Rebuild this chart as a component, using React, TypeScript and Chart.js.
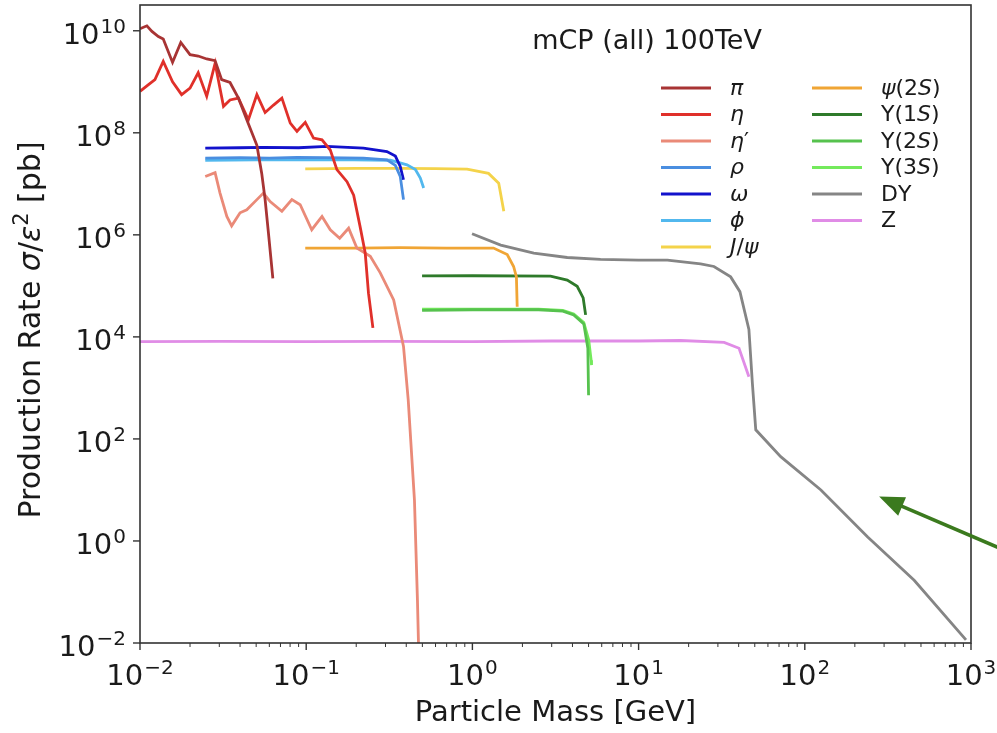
import React, { useEffect, useRef } from "react";
import { Chart, registerables } from "chart.js";

Chart.register(...registerables);

// ---------- data ----------
const piMass = [0.01, 0.011, 0.0118, 0.0129, 0.0138, 0.0157, 0.0176, 0.02, 0.0224, 0.0252, 0.0283, 0.031, 0.0348, 0.0391, 0.0439, 0.0505, 0.054, 0.0566, 0.0593, 0.063];
const piRate = [1.1e10, 1.25e10, 9.7e9, 7.7e9, 6.9e9, 2.4e9, 5.9e9, 3.4e9, 3.2e9, 2.8e9, 2.6e9, 1.1e9, 9.7e8, 4.8e8, 1.8e8, 5.7e7, 1.6e7, 4.9e6, 1.07e6, 1.4e5];

const etaMass = [0.01, 0.0112, 0.0123, 0.0138, 0.0157, 0.0178, 0.02, 0.0224, 0.0252, 0.0283, 0.0318, 0.0348, 0.0391, 0.0449, 0.0505, 0.0566, 0.0636, 0.0714, 0.0802, 0.088, 0.0987, 0.1107, 0.1245, 0.1396, 0.153, 0.176, 0.193, 0.211, 0.2265, 0.237, 0.252];
const etaRate = [6.5e8, 8.7e8, 1.1e9, 2.5e9, 1.0e9, 5.6e8, 7.5e8, 1.5e9, 5.2e8, 2.3e9, 3.3e8, 4.4e8, 4.8e8, 1.8e8, 5.6e8, 2.5e8, 3.5e8, 4.8e8, 1.55e8, 1.07e8, 1.6e8, 7.9e7, 7.3e7, 4.6e7, 1.9e7, 1.1e7, 6.0e6, 1.45e6, 4.4e5, 7.2e4, 1.5e4];

const etapMass = [0.0247, 0.0283, 0.0303, 0.0333, 0.0356, 0.04, 0.0439, 0.0505, 0.0553, 0.0607, 0.0714, 0.082, 0.092, 0.108, 0.1245, 0.1396, 0.159, 0.18, 0.2018, 0.243, 0.279, 0.336, 0.385, 0.411, 0.448, 0.467, 0.475];
const etapRate = [1.39e7, 1.66e7, 6.6e6, 2.3e6, 1.5e6, 2.7e6, 3.1e6, 4.9e6, 6.6e6, 4.5e6, 2.9e6, 4.9e6, 3.9e6, 1.26e6, 2.3e6, 1.26e6, 8.6e5, 1.35e6, 5.5e5, 3.8e5, 1.8e5, 5.3e4, 6.5e3, 582, 6.4, 0.07, 0.007];

const rhoMass = [0.0247, 0.04, 0.06, 0.088, 0.13, 0.221, 0.306, 0.344, 0.368, 0.385];
const rhoRate = [3.2e7, 3.25e7, 3.2e7, 3.3e7, 3.25e7, 3.2e7, 2.95e7, 2.3e7, 1.4e7, 4.9e6];

const omegaMass = [0.0247, 0.04, 0.0553, 0.09, 0.133, 0.221, 0.306, 0.344, 0.368, 0.385];
const omegaRate = [5.0e7, 5.1e7, 5.2e7, 5.1e7, 5.4e7, 5.0e7, 4.3e7, 3.5e7, 2.2e7, 1.2e7];

const phiMass = [0.0247, 0.05, 0.088, 0.15, 0.321, 0.404, 0.454, 0.486, 0.509];
const phiRate = [2.9e7, 2.95e7, 2.95e7, 3.0e7, 2.9e7, 2.35e7, 1.9e7, 1.3e7, 8.3e6];

const jpsiMass = [0.0987, 0.2, 0.368, 0.6, 0.929, 1.25, 1.44, 1.545];
const jpsiRate = [1.96e7, 2.0e7, 2.0e7, 1.98e7, 1.95e7, 1.6e7, 1.03e7, 2.9e6];

const psi2sMass = [0.0987, 0.2, 0.368, 0.7, 1.34, 1.62, 1.77, 1.84, 1.86];
const psi2sRate = [5.5e5, 5.5e5, 5.6e5, 5.5e5, 5.5e5, 4.1e5, 2.4e5, 1.5e5, 3.9e4];

const ups1Mass = [0.498, 1, 2.95, 3.72, 4.27, 4.64, 4.8];
const ups1Rate = [1.57e5, 1.58e5, 1.55e5, 1.3e5, 9.8e4, 5.8e4, 2.7e4];

const ups2Mass = [0.498, 1, 2.5, 3.5, 4.07, 4.68, 4.95, 5.0];
const ups2Rate = [3.3e4, 3.4e4, 3.4e4, 3.2e4, 2.7e4, 1.8e4, 6.0e3, 7.2e2];

const ups3Mass = [0.498, 1, 2.5, 3.5, 4.07, 4.68, 5.01, 5.18, 5.21];
const ups3Rate = [3.5e4, 3.5e4, 3.5e4, 3.3e4, 2.8e4, 1.9e4, 8.7e3, 3.5e3, 2.8e3];

const dyMass = [0.995, 1.48, 2.34, 3.72, 5.9, 10, 14.9, 23.6, 28.4, 35.8, 40.7, 46.1, 48.4, 50.7, 71.6, 125, 239, 455, 933];
const dyRate = [1.05e6, 6.3e5, 4.4e5, 3.6e5, 3.3e5, 3.2e5, 3.2e5, 2.7e5, 2.4e5, 1.5e5, 7.7e4, 1.4e4, 1.2e3, 151, 45, 10, 1.2, 0.17, 0.0115];

const zMass = [0.01, 0.03, 0.1, 0.3, 1, 3, 10, 17.9, 32.7, 40.2, 46.1];
const zRate = [8.1e3, 8.2e3, 8.1e3, 8.2e3, 8.1e3, 8.3e3, 8.3e3, 8.5e3, 7.8e3, 6.0e3, 1.65e3];

const seriesLabels = ["π", "η", "η′", "ρ", "ω", "ϕ", "J/ψ", "ψ(2S)", "Υ(1S)", "Υ(2S)", "Υ(3S)", "DY", "Z"];
const seriesColors = ["#a83434", "#e0302a", "#ea8a78", "#4a8ee0", "#1212cc", "#52b8ee", "#f4d34a", "#f0a535", "#2e7a2a", "#56c24e", "#74ea5c", "#858585", "#e08ce6"];
const seriesMass = [piMass, etaMass, etapMass, rhoMass, omegaMass, phiMass, jpsiMass, psi2sMass, ups1Mass, ups2Mass, ups3Mass, dyMass, zMass];
const seriesRate = [piRate, etaRate, etapRate, rhoRate, omegaRate, phiRate, jpsiRate, psi2sRate, ups1Rate, ups2Rate, ups3Rate, dyRate, zRate];

const xMajorExponents = [-2, -1, 0, 1, 2, 3];
const yMajorExponents = [-2, 0, 2, 4, 6, 8, 10];
const minorMultipliers = [2, 3, 4, 5, 6, 7, 8, 9];
const xRange = [0.01, 1000];
const yRange = [0.01, 3.2e10];

const titleText = "mCP (all) 100TeV";
const xAxisTitle = "Particle Mass [GeV]";
const yAxisTitle: [string, string][] = [["Production Rate ", "n"], ["σ", "i"], ["/", "n"], ["ε", "i"], ["2", "sup"], [" [pb]", "n"]];

// annotation arrow (data coordinates): tail -> tip
const arrowTail = [1742, 0.58];
const arrowTip = [280, 7.4];

// ---------- drawing helpers ----------
const FONT = '"DejaVu Sans", sans-serif';
const TEXT = "#1a1a1a";
const ITALIC = new Set(["π", "η", "ρ", "ω", "ϕ", "ψ", "J", "S", "σ", "ε"]);

function drawPow(ctx: CanvasRenderingContext2D, exp: number, x: number, y: number, align: "center" | "right") {
  const base = "10";
  const e = exp < 0 ? "\u2212" + Math.abs(exp) : String(exp);
  const bf = `29px ${FONT}`;
  const sf = `20px ${FONT}`;
  ctx.font = bf;
  const wb = ctx.measureText(base).width;
  ctx.font = sf;
  const we = ctx.measureText(e).width;
  const total = wb + we + 1;
  const x0 = align === "center" ? x - total / 2 : x - total;
  ctx.textAlign = "left";
  ctx.textBaseline = "alphabetic";
  ctx.font = bf;
  ctx.fillText(base, x0, y);
  ctx.font = sf;
  ctx.fillText(e, x0 + wb + 1, y - 11);
}

function drawRich(ctx: CanvasRenderingContext2D, text: string, x: number, y: number, size: number) {
  let cx = x;
  ctx.textAlign = "left";
  ctx.textBaseline = "middle";
  for (const ch of Array.from(text)) {
    ctx.font = `${ITALIC.has(ch) ? "italic " : ""}${size}px ${FONT}`;
    ctx.fillText(ch, cx, y);
    cx += ctx.measureText(ch).width;
  }
}

const decorPlugin = {
  id: "decor",
  afterDatasetsDraw(chart: any) {
    const { ctx, chartArea: a, scales } = chart;
    const xs = scales.x;
    const ys = scales.y;
    ctx.save();
    ctx.fillStyle = TEXT;
    ctx.strokeStyle = "#333";

    // ticks x
    ctx.lineWidth = 1.4;
    for (const e of xMajorExponents) {
      const px = xs.getPixelForValue(Math.pow(10, e));
      ctx.beginPath();
      ctx.moveTo(px, a.bottom);
      ctx.lineTo(px, a.bottom + 7);
      ctx.stroke();
      drawPow(ctx, e, px, 685, "center");
      if (e < xMajorExponents[xMajorExponents.length - 1]) {
        for (const m of minorMultipliers) {
          const mx = xs.getPixelForValue(m * Math.pow(10, e));
          ctx.lineWidth = 1;
          ctx.beginPath();
          ctx.moveTo(mx, a.bottom);
          ctx.lineTo(mx, a.bottom + 4);
          ctx.stroke();
          ctx.lineWidth = 1.4;
        }
      }
    }
    // ticks y
    for (const e of yMajorExponents) {
      const py = ys.getPixelForValue(Math.pow(10, e));
      ctx.beginPath();
      ctx.moveTo(a.left, py);
      ctx.lineTo(a.left - 7, py);
      ctx.stroke();
      drawPow(ctx, e, 126, py + 13, "right");
    }

    // frame
    ctx.lineWidth = 1.6;
    ctx.strokeStyle = "#333";
    ctx.strokeRect(a.left, a.top, a.right - a.left, a.bottom - a.top);

    // axis titles
    ctx.fillStyle = TEXT;
    ctx.font = `29px ${FONT}`;
    ctx.textAlign = "center";
    ctx.textBaseline = "alphabetic";
    ctx.fillText(xAxisTitle, (a.left + a.right) / 2, 721);

    ctx.save();
    ctx.translate(40, 330);
    ctx.rotate(-Math.PI / 2);
    const fontFor = (k: string) => (k === "sup" ? `21px ${FONT}` : `${k === "i" ? "italic " : ""}30px ${FONT}`);
    let total = 0;
    for (const [t, k] of yAxisTitle) {
      ctx.font = fontFor(k);
      total += ctx.measureText(t).width;
    }
    let cx = -total / 2;
    ctx.textAlign = "left";
    for (const [t, k] of yAxisTitle) {
      ctx.font = fontFor(k);
      ctx.fillText(t, cx, k === "sup" ? -12 : 0);
      cx += ctx.measureText(t).width;
    }
    ctx.restore();

    // title inside axes
    ctx.font = `27px ${FONT}`;
    ctx.textAlign = "center";
    ctx.textBaseline = "middle";
    ctx.fillText(titleText, 647, 42);

    // legend (two columns)
    const ds = chart.data.datasets;
    const perCol = 7;
    for (let i = 0; i < ds.length; i++) {
      const col = Math.floor(i / perCol);
      const row = i % perCol;
      const lx = col === 0 ? 661 : 812;
      const ly = 88 + row * 26.5;
      ctx.strokeStyle = ds[i].borderColor;
      ctx.lineWidth = 3;
      ctx.beginPath();
      ctx.moveTo(lx, ly);
      ctx.lineTo(lx + 50, ly);
      ctx.stroke();
      ctx.fillStyle = TEXT;
      drawRich(ctx, ds[i].label, lx + 69, ly + 1, 22);
    }

    // annotation arrow
    const tx = xs.getPixelForValue(arrowTip[0]);
    const ty = ys.getPixelForValue(arrowTip[1]);
    const sx = xs.getPixelForValue(arrowTail[0]);
    const sy = ys.getPixelForValue(arrowTail[1]);
    const dx = sx - tx;
    const dy = sy - ty;
    const len = Math.hypot(dx, dy);
    const ux = dx / len;
    const uy = dy / len;
    const headLen = 25;
    const headW = 10;
    ctx.strokeStyle = "#3b7a1e";
    ctx.fillStyle = "#3b7a1e";
    ctx.lineWidth = 3.5;
    ctx.beginPath();
    ctx.moveTo(sx, sy);
    ctx.lineTo(tx + ux * headLen * 0.8, ty + uy * headLen * 0.8);
    ctx.stroke();
    ctx.beginPath();
    ctx.moveTo(tx, ty);
    ctx.lineTo(tx + ux * headLen - uy * headW, ty + uy * headLen + ux * headW);
    ctx.lineTo(tx + ux * headLen + uy * headW, ty + uy * headLen - ux * headW);
    ctx.closePath();
    ctx.fill();

    ctx.restore();
  },
};

export default function App() {
  const ref = useRef<HTMLCanvasElement | null>(null);
  useEffect(() => {
    if (!ref.current) return;
    const datasets = seriesLabels.map((label, i) => ({
      label,
      data: seriesMass[i].map((m, j) => ({ x: m, y: seriesRate[i][j] })),
      borderColor: seriesColors[i],
      backgroundColor: seriesColors[i],
      borderWidth: 2.8,
      pointRadius: 0,
      showLine: true,
      fill: false,
      tension: 0,
    }));
    const chart = new Chart(ref.current, {
      type: "scatter",
      data: { datasets },
      options: {
        animation: false,
        responsive: false,
        maintainAspectRatio: false,
        devicePixelRatio: 1,
        layout: { padding: { left: 140, top: 5, right: 26, bottom: 90 } },
        plugins: { legend: { display: false }, tooltip: { enabled: false }, title: { display: false } },
        scales: {
          x: { type: "logarithmic", min: xRange[0], max: xRange[1], display: false },
          y: { type: "logarithmic", min: yRange[0], max: yRange[1], display: false },
        },
      },
      plugins: [decorPlugin],
    });
    return () => chart.destroy();
  }, []);
  return (
    <div style={{ position: "fixed", left: 0, top: 0, width: 997, height: 733, background: "#fff" }}>
      <canvas ref={ref} width={997} height={733} style={{ width: 997, height: 733, display: "block" }} />
    </div>
  );
}
